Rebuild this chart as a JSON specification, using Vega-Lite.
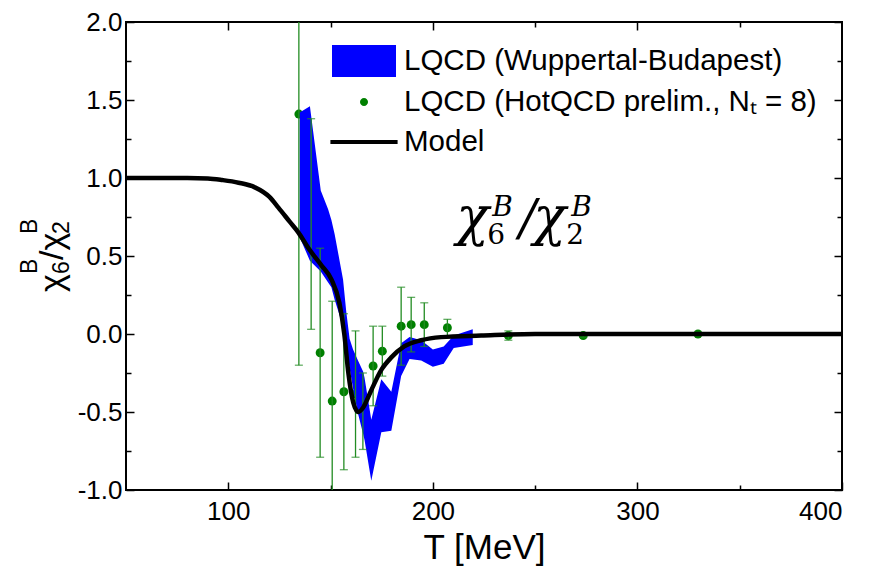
{
  "$schema": "https://vega.github.io/schema/vega-lite/v6.json",
  "width": 716,
  "height": 468,
  "autosize": "none",
  "padding": {"left": 126, "top": 22, "right": 40, "bottom": 86},
  "config": {
    "view": {"stroke": "#000000", "strokeWidth": 2},
    "font": "Liberation Sans",
    "axis": {
      "labelFont": "Liberation Sans", "labelFontSize": 26, "labelColor": "#000000",
      "titleFont": "Liberation Sans", "titleColor": "#000000", "titleFontWeight": "normal",
      "grid": false, "domain": false, "tickColor": "#000000", "tickWidth": 1.5
    }
  },
  "datasets": {
    "model": [
      {"T": 50, "v": 1.0}, {"T": 80, "v": 1.0}, {"T": 90, "v": 0.997}, {"T": 97, "v": 0.987},
      {"T": 105, "v": 0.97}, {"T": 113, "v": 0.94}, {"T": 120, "v": 0.88}, {"T": 124.5, "v": 0.81},
      {"T": 130, "v": 0.72}, {"T": 134.3, "v": 0.65}, {"T": 139.2, "v": 0.55}, {"T": 142, "v": 0.5},
      {"T": 145.5, "v": 0.44}, {"T": 150.4, "v": 0.35}, {"T": 154.3, "v": 0.2}, {"T": 156.7, "v": 0.0},
      {"T": 158.7, "v": -0.25}, {"T": 161.1, "v": -0.44}, {"T": 163.6, "v": -0.5}, {"T": 166, "v": -0.47},
      {"T": 169.9, "v": -0.36}, {"T": 174.8, "v": -0.23}, {"T": 179.7, "v": -0.15}, {"T": 186, "v": -0.08},
      {"T": 194.3, "v": -0.04}, {"T": 204, "v": -0.02}, {"T": 223.6, "v": -0.01}, {"T": 250, "v": 0.0},
      {"T": 400, "v": 0.0}
    ],
    "band": [
      {"T": 134.9, "lo": 0.62, "hi": 1.42}, {"T": 139.9, "lo": 0.47, "hi": 1.46},
      {"T": 145.2, "lo": 0.4, "hi": 0.92}, {"T": 148.8, "lo": 0.33, "hi": 0.8},
      {"T": 150.4, "lo": 0.3, "hi": 0.73}, {"T": 152.0, "lo": 0.22, "hi": 0.64},
      {"T": 154.4, "lo": 0.12, "hi": 0.47}, {"T": 156.1, "lo": 0.03, "hi": 0.35},
      {"T": 157.7, "lo": -0.08, "hi": 0.14}, {"T": 159.3, "lo": -0.22, "hi": -0.03},
      {"T": 161.0, "lo": -0.35, "hi": -0.1}, {"T": 163.4, "lo": -0.51, "hi": -0.17},
      {"T": 165.9, "lo": -0.64, "hi": -0.24}, {"T": 166.6, "lo": -0.68, "hi": -0.28},
      {"T": 169.9, "lo": -0.94, "hi": -0.55}, {"T": 174.8, "lo": -0.63, "hi": -0.29},
      {"T": 179.7, "lo": -0.62, "hi": -0.37}, {"T": 184.5, "lo": -0.27, "hi": -0.06},
      {"T": 188.6, "lo": -0.16, "hi": -0.02}, {"T": 194.3, "lo": -0.17, "hi": -0.04},
      {"T": 200.0, "lo": -0.21, "hi": -0.1}, {"T": 205.3, "lo": -0.19, "hi": -0.08},
      {"T": 210.2, "lo": -0.09, "hi": -0.01}, {"T": 219.5, "lo": -0.07, "hi": 0.03}
    ],
    "hot": [
      {"T": 134.5, "v": 1.41, "lo": -0.2, "hi": 3.02},
      {"T": 140.5, "v": 0.705, "lo": 0.03, "hi": 1.38},
      {"T": 144.9, "v": -0.12, "lo": -0.79, "hi": 0.55},
      {"T": 150.8, "v": -0.43, "lo": -1.07, "hi": 0.21},
      {"T": 156.5, "v": -0.37, "lo": -0.87, "hi": 0.13},
      {"T": 162.2, "v": -0.385, "lo": -0.79, "hi": 0.02},
      {"T": 165.8, "v": -0.495, "lo": -0.74, "hi": -0.25},
      {"T": 170.8, "v": -0.205, "lo": -0.46, "hi": 0.05},
      {"T": 175.3, "v": -0.11, "lo": -0.27, "hi": 0.05},
      {"T": 184.5, "v": 0.05, "lo": -0.2, "hi": 0.3},
      {"T": 189.4, "v": 0.06, "lo": -0.115, "hi": 0.235},
      {"T": 195.8, "v": 0.06, "lo": -0.08, "hi": 0.2},
      {"T": 207.1, "v": 0.04, "lo": -0.014, "hi": 0.094},
      {"T": 236.9, "v": -0.01, "lo": -0.04, "hi": 0.02},
      {"T": 273.5, "v": -0.01, "lo": -0.02, "hi": 0.0},
      {"T": 329.6, "v": 0.0, "lo": -0.01, "hi": 0.01}
    ]
  },
  "layer": [
    {
      "data": {"name": "hot"},
      "mark": {"type": "point", "filled": true, "size": 80, "opacity": 1, "color": "#008000"},
      "encoding": {
        "x": {"field": "T", "type": "quantitative",
          "scale": {"domain": [50, 400], "nice": false, "zero": false},
          "axis": {"orient": "bottom", "values": [100, 200, 300, 400], "tickSize": -8,
            "title": "T [MeV]", "titleFontSize": 35, "labelPadding": 16, "titlePadding": 6}},
        "y": {"field": "v", "type": "quantitative",
          "scale": {"domain": [-1, 2], "nice": false, "zero": false},
          "axis": {"orient": "left", "values": [-1, -0.5, 0, 0.5, 1, 1.5, 2], "tickSize": -8,
            "labelExpr": "replace(format(datum.value, '.1f'), '\u2212', '-')",
            "title": null, "labelPadding": 12}}
      }
    },
    {
      "data": {"name": "band"},
      "mark": {"type": "area", "opacity": 1, "interpolate": "linear", "color": "#0000ff"},
      "encoding": {
        "x": {"field": "T", "type": "quantitative",
          "axis": {"orient": "top", "values": [100, 200, 300], "labels": false, "title": null, "tickSize": -8}},
        "y": {"field": "lo", "type": "quantitative",
          "axis": {"orient": "right", "values": [-1, -0.5, 0, 0.5, 1, 1.5, 2], "labels": false, "title": null, "tickSize": -8}},
        "y2": {"field": "hi"}
      }
    },
    {
      "data": {"name": "hot"},
      "mark": {"type": "rule", "color": "#238c23", "strokeWidth": 1.3, "clip": true},
      "encoding": {
        "x": {"field": "T", "type": "quantitative",
          "axis": {"orient": "bottom", "values": [150, 250, 350], "labels": false, "title": null, "tickSize": -5}},
        "y": {"field": "lo", "type": "quantitative",
          "axis": {"orient": "left", "values": [-0.75, -0.25, 0.25, 0.75, 1.25, 1.75], "labels": false, "title": null, "tickSize": -5}},
        "y2": {"field": "hi"}
      }
    },
    {
      "data": {"name": "hot"},
      "mark": {"type": "tick", "orient": "horizontal", "color": "#238c23", "size": 8, "thickness": 1.3, "clip": true},
      "encoding": {
        "x": {"field": "T", "type": "quantitative",
          "axis": {"orient": "top", "values": [150, 250, 350], "labels": false, "title": null, "tickSize": -5}},
        "y": {"field": "lo", "type": "quantitative",
          "axis": {"orient": "right", "values": [-0.75, -0.25, 0.25, 0.75, 1.25, 1.75], "labels": false, "title": null, "tickSize": -5}}
      }
    },
    {
      "data": {"name": "hot"},
      "mark": {"type": "tick", "orient": "horizontal", "color": "#238c23", "size": 8, "thickness": 1.3, "clip": true},
      "encoding": {
        "x": {"field": "T", "type": "quantitative", "axis": null},
        "y": {"field": "hi", "type": "quantitative", "axis": null}
      }
    },
    {
      "data": {"name": "model"},
      "mark": {"type": "line", "strokeWidth": 4.5, "interpolate": "monotone", "clip": true, "color": "#000000"},
      "encoding": {
        "x": {"field": "T", "type": "quantitative", "axis": null},
        "y": {"field": "v", "type": "quantitative", "axis": null}
      }
    },
    {
      "data": {"name": "model"},
      "mark": {"type": "point", "filled": true, "opacity": 0, "size": 1024, "strokeWidth": 0},
      "encoding": {
        "x": {"field": "T", "type": "quantitative", "axis": null},
        "y": {"field": "v", "type": "quantitative", "axis": null},
        "color": {"datum": "Model", "type": "nominal",
          "scale": {"domain": ["LQCD (Wuppertal-Budapest)", "LQCD (HotQCD prelim., N\u209C = 8)", "Model"], "range": ["#0000ff", "#008000", "#000000"]},
          "legend": {
            "orient": "none", "legendX": 222, "legendY": 23, "title": null, "padding": 0,
            "symbolSize": 1024, "symbolStrokeWidth": 0, "symbolOpacity": 1, "labelOffset": 24, "rowPadding": 9,
            "labelFont": "Liberation Sans", "labelFontSize": 29.5, "labelColor": "#000000", "labelLimit": 600
          }},
        "shape": {"datum": "Model", "type": "nominal",
          "scale": {"domain": ["LQCD (Wuppertal-Budapest)", "LQCD (HotQCD prelim., N\u209C = 8)", "Model"],
            "range": ["M-2,-1H2V1H-2Z", "M0.25,0A0.25,0.25,0,1,1,-0.25,0A0.25,0.25,0,1,1,0.25,0Z", "M-2.1,-0.13H2.1V0.13H-2.1Z"]},
          "legend": {
            "orient": "none", "legendX": 222, "legendY": 23, "title": null, "padding": 0,
            "symbolSize": 1024, "symbolStrokeWidth": 0, "symbolOpacity": 1, "labelOffset": 24, "rowPadding": 9,
            "labelFont": "Liberation Sans", "labelFontSize": 29.5, "labelColor": "#000000", "labelLimit": 600
          }}
      }
    },
    {
      "data": {"values": [{"T": 211.4, "v": 0.635, "s": "\u03c7"}]},
      "mark": {"type": "text", "font": "DejaVu Serif", "fontStyle": "italic", "fontSize": 54, "align": "left", "baseline": "alphabetic", "color": "#000000"},
      "encoding": {"x": {"field": "T", "type": "quantitative", "axis": null}, "y": {"field": "v", "type": "quantitative", "axis": null}, "text": {"field": "s"}}
    },
    {
      "data": {"values": [{"T": 211.4, "v": 0.635, "s": "6"}]},
      "mark": {"type": "text", "font": "DejaVu Serif", "fontSize": 28, "align": "left", "baseline": "alphabetic", "dx": 31, "dy": 9, "color": "#000000"},
      "encoding": {"x": {"field": "T", "type": "quantitative", "axis": null}, "y": {"field": "v", "type": "quantitative", "axis": null}, "text": {"field": "s"}}
    },
    {
      "data": {"values": [{"T": 211.4, "v": 0.635, "s": "B"}]},
      "mark": {"type": "text", "font": "DejaVu Serif", "fontStyle": "italic", "fontSize": 28, "align": "left", "baseline": "alphabetic", "dx": 36, "dy": -19, "color": "#000000"},
      "encoding": {"x": {"field": "T", "type": "quantitative", "axis": null}, "y": {"field": "v", "type": "quantitative", "axis": null}, "text": {"field": "s"}}
    },
    {
      "data": {"values": [{"T": 211.4, "v": 0.635, "s": "/"}]},
      "mark": {"type": "text", "font": "DejaVu Serif", "fontStyle": "italic", "fontSize": 50, "align": "left", "baseline": "alphabetic", "dx": 63, "color": "#000000"},
      "encoding": {"x": {"field": "T", "type": "quantitative", "axis": null}, "y": {"field": "v", "type": "quantitative", "axis": null}, "text": {"field": "s"}}
    },
    {
      "data": {"values": [{"T": 211.4, "v": 0.635, "s": "\u03c7"}]},
      "mark": {"type": "text", "font": "DejaVu Serif", "fontStyle": "italic", "fontSize": 54, "align": "left", "baseline": "alphabetic", "dx": 77, "color": "#000000"},
      "encoding": {"x": {"field": "T", "type": "quantitative", "axis": null}, "y": {"field": "v", "type": "quantitative", "axis": null}, "text": {"field": "s"}}
    },
    {
      "data": {"values": [{"T": 211.4, "v": 0.635, "s": "2"}]},
      "mark": {"type": "text", "font": "DejaVu Serif", "fontSize": 28, "align": "left", "baseline": "alphabetic", "dx": 110, "dy": 9, "color": "#000000"},
      "encoding": {"x": {"field": "T", "type": "quantitative", "axis": null}, "y": {"field": "v", "type": "quantitative", "axis": null}, "text": {"field": "s"}}
    },
    {
      "data": {"values": [{"T": 211.4, "v": 0.635, "s": "B"}]},
      "mark": {"type": "text", "font": "DejaVu Serif", "fontStyle": "italic", "fontSize": 28, "align": "left", "baseline": "alphabetic", "dx": 115, "dy": -19, "color": "#000000"},
      "encoding": {"x": {"field": "T", "type": "quantitative", "axis": null}, "y": {"field": "v", "type": "quantitative", "axis": null}, "text": {"field": "s"}}
    },
    {
      "data": {"values": [{"T": 19.0, "v": 0.27, "s": "\u03c7"}]},
      "mark": {"type": "text", "font": "Liberation Sans", "fontSize": 34, "angle": 270, "align": "left", "baseline": "alphabetic", "clip": false, "color": "#000000"},
      "encoding": {"x": {"field": "T", "type": "quantitative", "axis": null}, "y": {"field": "v", "type": "quantitative", "axis": null}, "text": {"field": "s"}}
    },
    {
      "data": {"values": [{"T": 19.0, "v": 0.27, "s": "6"}]},
      "mark": {"type": "text", "font": "Liberation Sans", "fontSize": 23, "angle": 270, "align": "left", "baseline": "alphabetic", "dx": 18, "dy": 6, "clip": false, "color": "#000000"},
      "encoding": {"x": {"field": "T", "type": "quantitative", "axis": null}, "y": {"field": "v", "type": "quantitative", "axis": null}, "text": {"field": "s"}}
    },
    {
      "data": {"values": [{"T": 19.0, "v": 0.27, "s": "B"}]},
      "mark": {"type": "text", "font": "Liberation Sans", "fontSize": 23, "angle": 270, "align": "left", "baseline": "alphabetic", "dx": 18, "dy": -26, "clip": false, "color": "#000000"},
      "encoding": {"x": {"field": "T", "type": "quantitative", "axis": null}, "y": {"field": "v", "type": "quantitative", "axis": null}, "text": {"field": "s"}}
    },
    {
      "data": {"values": [{"T": 19.0, "v": 0.27, "s": "/\u03c7"}]},
      "mark": {"type": "text", "font": "Liberation Sans", "fontSize": 34, "angle": 270, "align": "left", "baseline": "alphabetic", "dx": 32, "clip": false, "color": "#000000"},
      "encoding": {"x": {"field": "T", "type": "quantitative", "axis": null}, "y": {"field": "v", "type": "quantitative", "axis": null}, "text": {"field": "s"}}
    },
    {
      "data": {"values": [{"T": 19.0, "v": 0.27, "s": "2"}]},
      "mark": {"type": "text", "font": "Liberation Sans", "fontSize": 23, "angle": 270, "align": "left", "baseline": "alphabetic", "dx": 58, "dy": 6, "clip": false, "color": "#000000"},
      "encoding": {"x": {"field": "T", "type": "quantitative", "axis": null}, "y": {"field": "v", "type": "quantitative", "axis": null}, "text": {"field": "s"}}
    },
    {
      "data": {"values": [{"T": 19.0, "v": 0.27, "s": "B"}]},
      "mark": {"type": "text", "font": "Liberation Sans", "fontSize": 23, "angle": 270, "align": "left", "baseline": "alphabetic", "dx": 58, "dy": -26, "clip": false, "color": "#000000"},
      "encoding": {"x": {"field": "T", "type": "quantitative", "axis": null}, "y": {"field": "v", "type": "quantitative", "axis": null}, "text": {"field": "s"}}
    }
  ],
  "resolve": {"axis": {"x": "independent", "y": "independent"}}
}
